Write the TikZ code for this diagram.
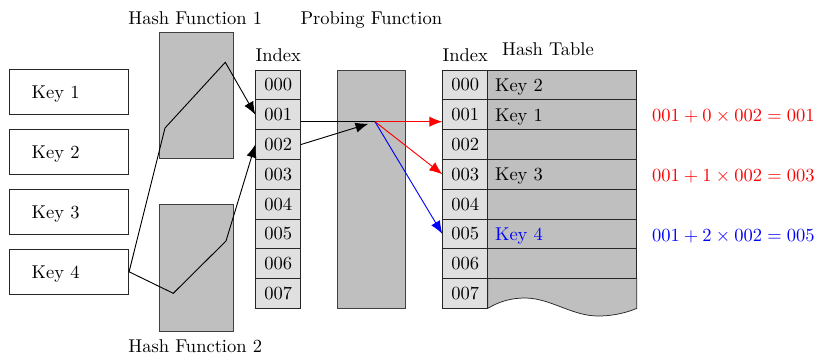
\documentclass[tikz,border=0pt]{standalone}
\usetikzlibrary{arrows.meta,calc}
\begin{document}
\begin{tikzpicture}[x=0.54pt,y=-0.54pt,
  every node/.style={font=\normalsize},
  keybox/.style={draw=black!85, fill=white, minimum height=24.3pt, inner xsep=12.26pt, inner ysep=0pt, text width=40.12pt, text depth=0pt, align=left},
  grbox/.style={draw=black!75, fill=black!25, inner sep=0pt},
  idxcell/.style={draw=black!85, fill=black!12, minimum width=24.3pt, minimum height=16.09pt, inner sep=0pt},
  tabcell/.style={draw=black!85, fill=black!25, minimum height=16.09pt, inner xsep=4pt, inner ysep=0pt, text width=72.46pt, text depth=0pt, align=left},
  lbl/.style={anchor=base, inner sep=0pt},
  arr/.style={-{Latex[length=7pt,width=5.5pt]}, line width=0.5pt},
  ln/.style={line width=0.5pt}
]
\useasboundingbox (0,0) rectangle (814,355);

% labels
\node[lbl] (hf1l) at (195.3,25) {Hash Function 1};
\node[lbl] (pfl) at (371.3,25) {Probing Function};
\node[lbl] (hf2l) at (195.3,352.7) {Hash Function 2};
\node[lbl] (ix1l) at (278.2,62) {Index};
\node[lbl] (ix2l) at (465.2,62) {Index};
\node[lbl] (htl) at (548,56) {Hash Table};

% keys
\node[keybox] (k1) at (68.85,91.8) {Key 1};
\node[keybox] (k2) at (68.85,151.8) {Key 2};
\node[keybox] (k3) at (68.85,211.8) {Key 3};
\node[keybox] (k4) at (68.85,271.8) {Key 4};

% hash functions
\node[grbox, minimum width=40.12pt, minimum height=67.93pt] (hf1) at (196.15,95.15) {};
\node[grbox, minimum width=40.12pt, minimum height=68.58pt] (hf2) at (196.15,267.5) {};

% probing function
\node[grbox, minimum width=36.5pt, minimum height=128.74pt] (pf) at (371.5,189.2) {};

% index column 1
\foreach \i/\t in {0/000,1/001,2/002,3/003,4/004,5/005,6/006,7/007}{
  \node[idxcell] (i\i) at (278.2,{70+29.8*(\i+0.5)}) {\t};
}

% hash table
\node[tabcell] (t0) at (562.2,84.9) {Key 2};
\node[tabcell] (t1) at (562.2,114.7) {Key 1};
\node[tabcell] (t2) at (562.2,144.5) {};
\node[tabcell] (t3) at (562.2,174.3) {Key 3};
\node[tabcell] (t4) at (562.2,204.1) {};
\node[tabcell, text=blue] (t5) at (562.2,233.9) {Key 4};
\node[tabcell] (t6) at (562.2,263.7) {};
\draw[draw=black!85, fill=black!25] (487.7,278.6) -- (636.7,278.6) -- (636.7,308.4)
  .. controls (628,312) and (615,316) .. (598,316)
  .. controls (572,316) and (550,298) .. (525,298)
  .. controls (512,298) and (500,301) .. (487.7,308.4) -- cycle;

% index column 2
\foreach \i/\t in {0/000,1/001,2/002,3/003,4/004,5/005,6/006,7/007}{
  \node[idxcell] (j\i) at (465.2,{70+29.8*(\i+0.5)}) {\t};
}

% formulas
\node[anchor=west, inner sep=0pt, text=red] (f1) at (651.7,116) {$001+0\times002=001$};
\node[anchor=west, inner sep=0pt, text=red] (f2) at (651.7,176) {$001+1\times002=003$};
\node[anchor=west, inner sep=0pt, text=blue] (f3) at (651.7,236) {$001+2\times002=005$};

% hash paths
\coordinate (a1) at (165,128);
\coordinate (a2) at (225.3,62.3);
\coordinate (b1) at (173.3,293.3);
\coordinate (b2) at (226,241);
\draw[arr] (k4.east) -- (a1) -- (a2) -- (i1.west);
\draw[arr] (k4.east) -- (b1) -- (b2) -- (i2.west);

% probing
\coordinate (m) at (375,121.7);
\draw[ln] (i1.east |- m) -- (m);
\draw[arr, shorten >=3.7pt] (i2.east) -- (m);
\draw[arr, red] (m) -- (j1.west |- m);
\draw[arr, red] (m) -- (j3.west);
\draw[arr, blue] (m) -- (j5.west);
\end{tikzpicture}
\end{document}
